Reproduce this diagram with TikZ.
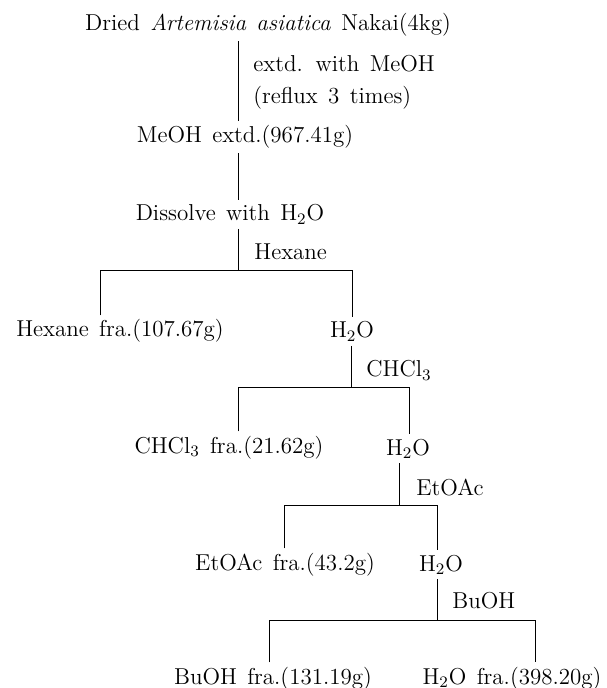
\documentclass[tikz,border=0pt]{standalone}
\usepackage{tikz}

\newcommand{\wordgap}{\spaceskip=0.45em plus 0.1em\relax}

\begin{document}
\begin{tikzpicture}[
    x=0.5pt, y=-0.5pt,
    stage/.style = {inner sep=2pt, anchor=base, font=\fontsize{11.5}{14}\selectfont\wordgap},
    solvent/.style = {inner sep=2pt, anchor=base west, align=left, font=\fontsize{11.5}{16}\selectfont\wordgap},
    link/.style = {draw=black, line width=0.5pt}
]
\useasboundingbox (0, 0) rectangle (606, 688);

% Extraction
\node (dried) [stage, at={(268, 31)}] {Dried \textit{Artemisia asiatica} Nakai(4kg)};
\node (reflux) [solvent, anchor=west, at={(249, 82)}] {extd. with MeOH\\(reflux 3 times)};
\node (meoh) [stage, at={(245, 143)}] {MeOH extd.(967.41g)};
\node (dissolve) [stage, at={(230, 221)}] {Dissolve with H$_2$O};

% Partition steps
\node (hexane) [solvent, at={(250, 260)}] {Hexane};
\node (hexfra) [stage, at={(120, 337)}] {Hexane fra.(107.67g)};
\node (water1) [stage, at={(352, 338)}] {H$_2$O};

\node (chcl) [solvent, at={(362, 377)}] {CHCl$_3$};
\node (chfra) [stage, at={(229, 453)}] {CHCl$_3$ fra.(21.62g)};
\node (water2) [stage, at={(408, 455)}] {H$_2$O};

\node (etoac) [solvent, at={(412, 495)}] {EtOAc};
\node (efra) [stage, at={(285, 570)}] {EtOAc fra.(43.2g)};
\node (water3) [stage, at={(441, 571)}] {H$_2$O};

\node (buoh) [solvent, at={(448, 608)}] {BuOH};
\node (bfra) [stage, at={(273, 684)}] {BuOH fra.(131.19g)};
\node (wfra) [stage, at={(512, 684)}] {H$_2$O fra.(398.20g)};

% Split points
\coordinate (split1) at (238, 271);
\coordinate (split1l) at (100, 271);
\coordinate (split1r) at (352, 271);
\coordinate (split2) at (351, 387);
\coordinate (split2l) at (238, 387);
\coordinate (split2r) at (409, 387);
\coordinate (split3) at (399, 505);
\coordinate (split3l) at (284, 505);
\coordinate (split3r) at (437, 505);
\coordinate (split4) at (437, 620);
\coordinate (split4l) at (269, 620);
\coordinate (split4r) at (535, 620);

% Main trunk
\draw [link] (dried.south -| split1) -- (meoh.north -| split1);
\draw [link] (meoh.south -| split1) -- (dissolve.north -| split1);
\draw [link] (dissolve.south -| split1) -- (split1);

% Branches
\draw [link] (hexfra.north -| split1l) -- (split1l) -- (split1r) -- (water1.north -| split1r);

\draw [link] (water1.south -| split2) -- (split2);
\draw [link] (chfra.north -| split2l) -- (split2l) -- (split2r) -- (water2.north -| split2r);

\draw [link] (water2.south -| split3) -- (split3);
\draw [link] (efra.north -| split3l) -- (split3l) -- (split3r) -- (water3.north -| split3r);

\draw [link] (water3.south -| split4) -- (split4);
\draw [link] (bfra.north -| split4l) -- (split4l) -- (split4r) -- (wfra.north -| split4r);

\end{tikzpicture}
\end{document}
